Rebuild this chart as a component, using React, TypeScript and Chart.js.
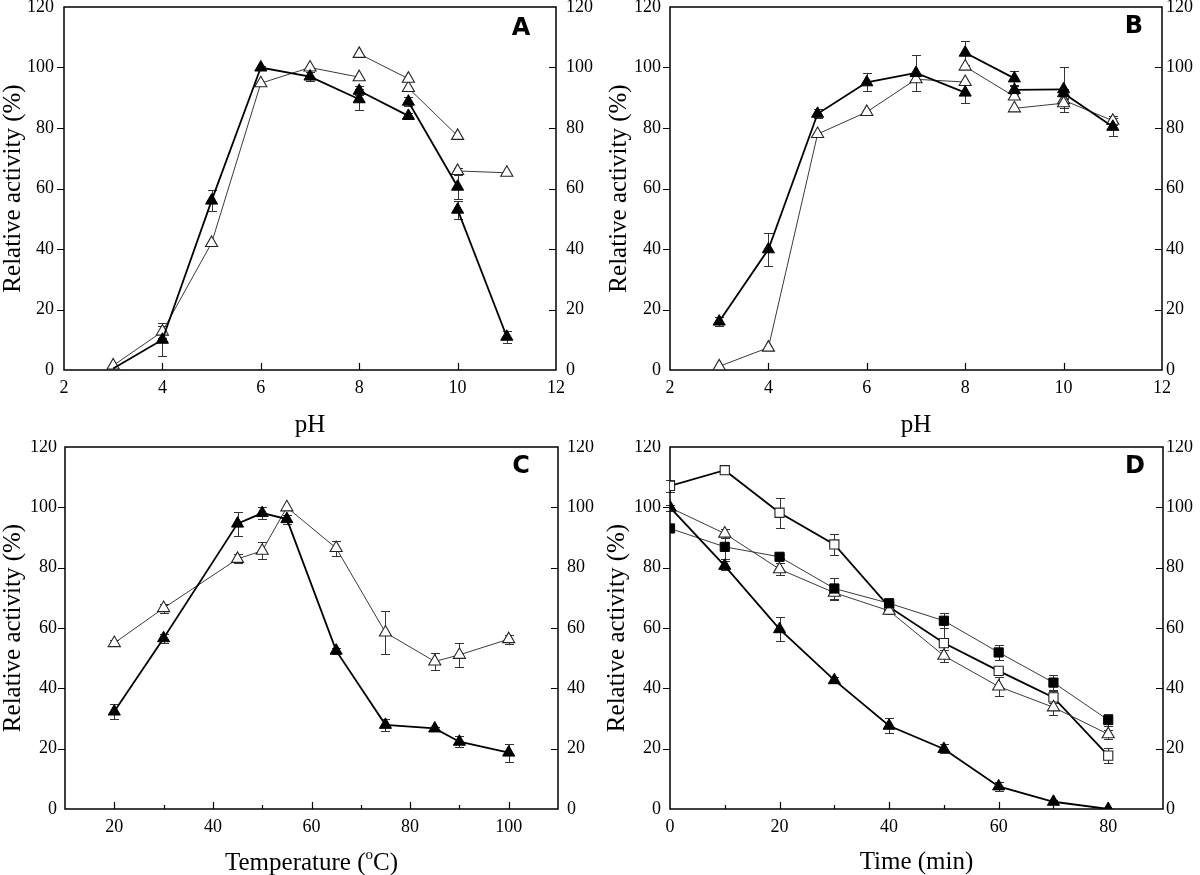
import React, { useEffect, useRef } from 'react';
import { Chart, registerables } from 'chart.js';

Chart.register(...registerables);

// ---------------- Panel A : pH optimum ----------------
const A_PH_1 = [3, 4, 5, 6, 7, 8];
const A_PH_2 = [8, 9];
const A_PH_3 = [9, 10];
const A_PH_4 = [10, 11];
const A_FILLED_1 = [0.5, 10, 56, 100, 97, 89.5];
const A_FILLED_1_ERR = [0, 5.5, 3.5, 0.5, 1.5, 3.5];
const A_FILLED_2 = [92.3, 84];
const A_FILLED_2_ERR = [1.5, 1];
const A_FILLED_3 = [88.7, 60.6];
const A_FILLED_3_ERR = [1.5, 4];
const A_FILLED_4 = [53, 11];
const A_FILLED_4_ERR = [3, 2];
const A_OPEN_1 = [1.5, 12.7, 42, 94.8, 100, 96.8];
const A_OPEN_1_ERR = [0, 2, 0, 0, 0, 0];
const A_OPEN_2 = [104.5, 96.3];
const A_OPEN_3 = [93.2, 77.4];
const A_OPEN_4 = [65.8, 65.2];
const A_OPEN_4_ERR = [1, 0];

// ---------------- Panel B : pH stability ----------------
const B_PH_1 = [3, 4, 5, 6, 7, 8];
const B_PH_2 = [8, 9];
const B_PH_3 = [9, 10];
const B_PH_4 = [10, 11];
const B_FILLED_1 = [16, 39.9, 84.7, 95.1, 98.2, 91.7];
const B_FILLED_1_ERR = [1.5, 5.5, 1.5, 3, 6, 3.5];
const B_FILLED_2 = [104.9, 96.4];
const B_FILLED_2_ERR = [4, 2.5];
const B_FILLED_3 = [92.6, 92.8];
const B_FILLED_3_ERR = [1.5, 7.5];
const B_FILLED_4 = [91.5, 80.4];
const B_FILLED_4_ERR = [1.5, 3];
const B_OPEN_1 = [1.2, 7.4, 78, 85.3, 96.1, 95.2];
const B_OPEN_2 = [100.3, 90.4];
const B_OPEN_3 = [86.5, 88.2];
const B_OPEN_3_ERR = [0, 1.5];
const B_OPEN_4 = [89.2, 82.4];
const B_OPEN_4_ERR = [0, 1.5];

// ---------------- Panel C : temperature ----------------
const C_TEMP = [20, 30, 45, 50, 55, 65, 75, 85, 90, 100];
const C_FILLED = [32.3, 56.6, 94.6, 98.1, 96.1, 52.5, 27.9, 26.7, 22.3, 18.7];
const C_FILLED_ERR = [2.5, 1.5, 4, 2, 1.5, 1, 2, 0.5, 1.8, 3];
const C_OPEN = [55, 66.6, 82.9, 85.6, 100, 86.5, 58.5, 48.9, 51.1, 56.3];
const C_OPEN_ERR = [1, 1.5, 1.5, 2.8, 0, 2.5, 7, 2.8, 4, 1.5];

// ---------------- Panel D : time ----------------
const D_TIME = [0, 10, 20, 30, 40, 50, 60, 70, 80];
const D_OPEN_SQ = [107.1, 112.3, 98.2, 87.7, 67, 55, 45.8, 37, 17.7];
const D_OPEN_SQ_ERR = [2, 1.2, 5, 3.5, 1, 5, 1, 2, 2.5];
const D_FILLED_SQ = [93, 86.9, 83.6, 73.1, 68.2, 62.4, 51.9, 41.9, 29.5];
const D_FILLED_SQ_ERR = [0, 4, 0.5, 3.5, 0.5, 2.5, 2.5, 2.5, 2];
const D_OPEN_TRI = [99.9, 91.3, 79.5, 71.7, 65.7, 50.8, 40.6, 33.7, 24.8];
const D_OPEN_TRI_ERR = [1, 1.5, 2, 2.5, 1, 2, 3, 2.5, 1.5];
const D_FILLED_TRI = [100, 80.6, 59.6, 42.7, 27.6, 19.9, 7.5, 2.4, 0];
const D_FILLED_TRI_ERR = [0, 1.5, 4, 1, 2.5, 1.5, 1.5, 0.5, 0];

// ---------------- axis ----------------
const Y_MIN = 0;
const Y_MAX = 120;
const Y_STEP = 20;

const SERIF = "'Liberation Serif', 'Times New Roman', serif";

// ---------------- styles ----------------
const BOLD_LINE = { borderColor: '#000', borderWidth: 1.8 };
const THIN_LINE = { borderColor: '#3a3a3a', borderWidth: 1 };
const FILLED_MARK = { pointBackgroundColor: '#000', pointBorderColor: '#000', pointBorderWidth: 1 };
const OPEN_MARK = { pointBackgroundColor: '#fff', pointBorderColor: '#222', pointBorderWidth: 1.1 };

function look(shape: string, mark: any, line: any) {
  const r = shape === 'rect' ? 6.5 : 7;
  return { showLine: true, pointStyle: shape, pointRadius: r, pointHoverRadius: r, tension: 0, fill: false, ...mark, ...line };
}

function series(xs: number[], ys: number[], errs: number[] | null, st: any, extra: any = {}) {
  return { data: xs.map((x, i) => ({ x, y: ys[i] })), errors: errs, ...st, ...extra };
}

const FT = look('triangle', FILLED_MARK, BOLD_LINE);
const OT = look('triangle', OPEN_MARK, THIN_LINE);

const A_DATASETS = [
  series(A_PH_1, A_FILLED_1, A_FILLED_1_ERR, FT, { pointRadius: [0, 7, 7, 7, 7, 7] }),
  series(A_PH_2, A_FILLED_2, A_FILLED_2_ERR, FT),
  series(A_PH_3, A_FILLED_3, A_FILLED_3_ERR, FT),
  series(A_PH_4, A_FILLED_4, A_FILLED_4_ERR, FT),
  series(A_PH_1, A_OPEN_1, A_OPEN_1_ERR, OT),
  series(A_PH_2, A_OPEN_2, null, OT),
  series(A_PH_3, A_OPEN_3, null, OT),
  series(A_PH_4, A_OPEN_4, A_OPEN_4_ERR, OT),
];

const B_DATASETS = [
  series(B_PH_1, B_FILLED_1, B_FILLED_1_ERR, FT),
  series(B_PH_2, B_FILLED_2, B_FILLED_2_ERR, FT),
  series(B_PH_3, B_FILLED_3, B_FILLED_3_ERR, FT),
  series(B_PH_4, B_FILLED_4, B_FILLED_4_ERR, FT),
  series(B_PH_1, B_OPEN_1, null, OT),
  series(B_PH_2, B_OPEN_2, null, OT),
  series(B_PH_3, B_OPEN_3, B_OPEN_3_ERR, OT),
  series(B_PH_4, B_OPEN_4, B_OPEN_4_ERR, OT),
];

const C_DATASETS = [
  series(C_TEMP, C_FILLED, C_FILLED_ERR, FT),
  series(C_TEMP, C_OPEN, C_OPEN_ERR, OT),
];

const D_DATASETS = [
  series(D_TIME, D_FILLED_TRI, D_FILLED_TRI_ERR, FT),
  series(D_TIME, D_FILLED_SQ, D_FILLED_SQ_ERR, look('rect', FILLED_MARK, THIN_LINE)),
  series(D_TIME, D_OPEN_TRI, D_OPEN_TRI_ERR, OT),
  series(D_TIME, D_OPEN_SQ, D_OPEN_SQ_ERR, look('rect', OPEN_MARK, BOLD_LINE)),
];

// ---------------- plugins ----------------
const crisp = (v: number) => Math.round(v) + 0.5;

const errorBars = {
  id: 'errorBars',
  beforeDatasetsDraw(chart: any) {
    const { ctx } = chart;
    const ys = chart.scales.y;
    ctx.save();
    ctx.strokeStyle = '#333';
    ctx.lineWidth = 1;
    chart.data.datasets.forEach((ds: any, di: number) => {
      if (!ds.errors) return;
      const meta = chart.getDatasetMeta(di);
      meta.data.forEach((pt: any, i: number) => {
        const e = ds.errors[i];
        if (!e) return;
        const v = ds.data[i].y;
        const x = crisp(pt.x);
        const t = Math.round(ys.getPixelForValue(v + e)) + 0.5;
        const b = Math.round(ys.getPixelForValue(v - e)) + 0.5;
        ctx.beginPath();
        ctx.moveTo(x, t); ctx.lineTo(x, b);
        ctx.moveTo(x - 4.5, t); ctx.lineTo(x + 4.5, t);
        ctx.moveTo(x - 4.5, b); ctx.lineTo(x + 4.5, b);
        ctx.stroke();
      });
    });
    ctx.restore();
  },
};

const frame = {
  id: 'frame',
  beforeDatasetsDraw(chart: any) {
    const { ctx, chartArea: a } = chart;
    const xs = chart.scales.x;
    const ys = chart.scales.y;
    ctx.save();
    ctx.strokeStyle = '#000';
    ctx.lineWidth = 1.5;
    ctx.strokeRect(a.left, a.top, a.right - a.left, a.bottom - a.top);
    ctx.lineWidth = 1.2;
    ctx.beginPath();
    xs.ticks.forEach((t: any) => {
      const px = xs.getPixelForValue(t.value);
      if (px <= a.left + 1 || px >= a.right - 1) return;
      const len = t.label === '' ? 4 : 7;
      ctx.moveTo(crisp(px), a.bottom);
      ctx.lineTo(crisp(px), a.bottom - len);
    });
    ys.ticks.forEach((t: any) => {
      const py = ys.getPixelForValue(t.value);
      if (py <= a.top + 1 || py >= a.bottom - 1) return;
      ctx.moveTo(a.left - 7, crisp(py));
      ctx.lineTo(a.left, crisp(py));
      ctx.moveTo(a.right, crisp(py));
      ctx.lineTo(a.right - 7, crisp(py));
    });
    ctx.stroke();
    ctx.restore();
  },
};

const decor = {
  id: 'decor',
  afterDraw(chart: any, _args: any, opts: any) {
    const { ctx, chartArea: a } = chart;
    ctx.save();
    ctx.fillStyle = '#000';
    if (opts.letter) {
      ctx.font = "bold 24px 'DejaVu Sans', sans-serif";
      ctx.textAlign = 'center';
      ctx.textBaseline = 'middle';
      ctx.fillText(opts.letter, opts.letterX, opts.letterY);
    }
    if (opts.tempTitle) {
      const main = `25px ${SERIF}`;
      const sup = `15px ${SERIF}`;
      const p1 = 'Temperature (';
      const p2 = 'o';
      const p3 = 'C)';
      ctx.font = main;
      const w1 = ctx.measureText(p1).width;
      const w3 = ctx.measureText(p3).width;
      ctx.font = sup;
      const w2 = ctx.measureText(p2).width;
      const total = w1 + w2 + w3;
      const cx = (a.left + a.right) / 2;
      let x = cx - total / 2;
      const base = opts.titleBaseline;
      ctx.textAlign = 'left';
      ctx.textBaseline = 'alphabetic';
      ctx.font = main;
      ctx.fillText(p1, x, base);
      x += w1;
      ctx.font = sup;
      ctx.fillText(p2, x, base - 11);
      x += w2;
      ctx.font = main;
      ctx.fillText(p3, x, base);
    }
    ctx.restore();
  },
};

// ---------------- panels ----------------
type Panel = {
  key: string; left: number; top: number; width: number; height: number;
  areaLeft: number; areaRight: number; areaTop: number; areaBottom: number;
  xMin: number; xMax: number; xStep: number; xLabelEvery: number;
  xTitle: string | null; xTitleLH: number;
  yTitlePad: number; rightPad: number; leftPad: number;
  letter: string; letterX: number; letterY: number;
  datasets: any[];
};

const PANELS: Panel[] = [
  { key: 'A', left: 0, top: 0, width: 600, height: 440, areaLeft: 64, areaRight: 556, areaTop: 7, areaBottom: 370,
    xMin: 2, xMax: 12, xStep: 2, xLabelEvery: 2, xTitle: 'pH', xTitleLH: 30,
    yTitlePad: 0, rightPad: 10, leftPad: 10, letter: 'A', letterX: 521, letterY: 29, datasets: A_DATASETS },
  { key: 'B', left: 600, top: 0, width: 600, height: 440, areaLeft: 70, areaRight: 562, areaTop: 7, areaBottom: 370,
    xMin: 2, xMax: 12, xStep: 2, xLabelEvery: 2, xTitle: 'pH', xTitleLH: 30,
    yTitlePad: 6, rightPad: 4, leftPad: 9, letter: 'B', letterX: 534, letterY: 27, datasets: B_DATASETS },
  { key: 'C', left: 0, top: 440, width: 600, height: 435, areaLeft: 65, areaRight: 558, areaTop: 7, areaBottom: 369,
    xMin: 10, xMax: 110, xStep: 10, xLabelEvery: 20, xTitle: null, xTitleLH: 26,
    yTitlePad: 0, rightPad: 9, leftPad: 8, letter: 'C', letterX: 521, letterY: 27, datasets: C_DATASETS },
  { key: 'D', left: 600, top: 440, width: 600, height: 435, areaLeft: 70, areaRight: 563, areaTop: 7, areaBottom: 369,
    xMin: 0, xMax: 90, xStep: 10, xLabelEvery: 20, xTitle: 'Time (min)', xTitleLH: 26,
    yTitlePad: 4, rightPad: 3, leftPad: 9, letter: 'D', letterX: 535, letterY: 27, datasets: D_DATASETS },
];

function buildConfig(p: Panel): any {
  const tickFont = { family: SERIF, size: 18, lineHeight: 1.2 };
  return {
    type: 'scatter',
    data: { datasets: p.datasets },
    plugins: [errorBars, frame, decor],
    options: {
      responsive: false,
      animation: false,
      events: [],
      layout: { padding: { top: p.areaTop, left: 0, right: 0, bottom: 0 }, autoPadding: false },
      plugins: {
        legend: { display: false },
        tooltip: { enabled: false },
        decor: { letter: p.letter, letterX: p.letterX, letterY: p.letterY, tempTitle: p.key === 'C', titleBaseline: 430 },
      },
      scales: {
        x: {
          type: 'linear', position: 'bottom', min: p.xMin, max: p.xMax,
          ticks: {
            stepSize: p.xStep, autoSkip: false, maxRotation: 0, color: '#000', font: tickFont, padding: 7,
            callback: (v: number) => (v % p.xLabelEvery === 0 ? String(v) : ''),
          },
          grid: { display: false, drawTicks: false },
          border: { display: false },
          title: {
            display: !!p.xTitle, text: p.xTitle || '', color: '#000', padding: 0,
            font: { family: SERIF, size: 25, lineHeight: p.xTitleLH / 25 },
          },
          afterFit: (s: any) => { s.height = p.height - p.areaBottom; s.paddingLeft = 0; s.paddingRight = 0; },
        },
        y: {
          type: 'linear', position: 'left', min: Y_MIN, max: Y_MAX,
          ticks: { stepSize: Y_STEP, color: '#000', font: tickFont, padding: p.leftPad },
          grid: { display: false, drawTicks: false },
          border: { display: false },
          title: {
            display: true, text: 'Relative activity (%)', color: '#000', padding: { top: p.yTitlePad, bottom: 0 },
            font: { family: SERIF, size: 25, lineHeight: 26 / 25 },
          },
          afterFit: (s: any) => { s.width = p.areaLeft; s.paddingTop = 0; s.paddingBottom = 0; },
        },
        y2: {
          type: 'linear', position: 'right', min: Y_MIN, max: Y_MAX,
          ticks: { stepSize: Y_STEP, color: '#000', font: tickFont, padding: p.rightPad },
          grid: { display: false, drawTicks: false },
          border: { display: false },
          afterFit: (s: any) => { s.width = p.width - p.areaRight; s.paddingTop = 0; s.paddingBottom = 0; },
        },
      },
    },
  };
}

function PanelChart({ p }: { p: Panel }) {
  const ref = useRef<HTMLCanvasElement | null>(null);
  useEffect(() => {
    if (!ref.current) return;
    const chart = new Chart(ref.current, buildConfig(p));
    return () => chart.destroy();
  }, [p]);
  return (
    <canvas
      ref={ref}
      width={p.width}
      height={p.height}
      style={{ position: 'absolute', left: p.left, top: p.top, width: p.width, height: p.height }}
    />
  );
}

export default function App() {
  return (
    <div style={{ position: 'fixed', left: 0, top: 0, width: 1200, height: 875, background: '#fff', overflow: 'hidden' }}>
      {PANELS.map((p) => (
        <PanelChart key={p.key} p={p} />
      ))}
    </div>
  );
}
